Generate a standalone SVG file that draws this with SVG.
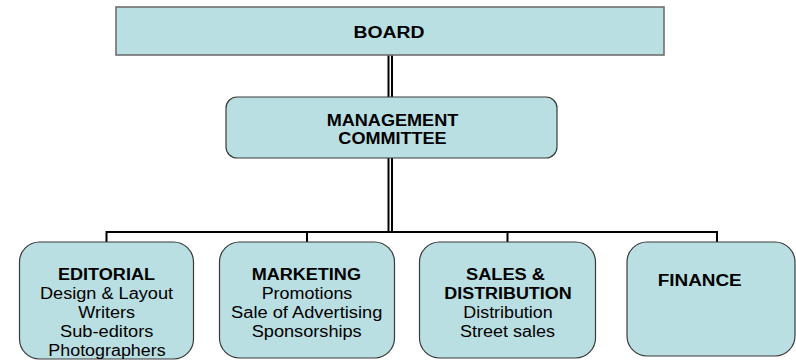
<svg xmlns="http://www.w3.org/2000/svg" width="796" height="360" viewBox="0 0 796 360">
  <style>
    .box { fill: #b9dfe2; stroke: #3a3a3a; stroke-width: 1.2; }
    .board { fill: #b9dfe2; stroke: #6e6e6e; stroke-width: 1.6; }
    .line { fill: none; stroke: #000; stroke-width: 2; }
    text { font-family: "Liberation Sans", Arial, sans-serif; font-size: 16px; fill: #000; text-anchor: middle; }
    .h { font-weight: bold; }
  </style>
  <rect width="796" height="360" fill="#fff"/>

  <g id="connectors">
    <!-- double trunk from board down to the bus -->
    <line class="line" x1="388.5" y1="55" x2="388.5" y2="232"/>
    <line class="line" x1="392" y1="55" x2="392" y2="232"/>
    <!-- bus -->
    <line class="line" x1="106.5" y1="232" x2="717" y2="232" stroke-width="1.8"/>
    <line class="line" x1="307" y1="232" x2="507.5" y2="232" stroke-width="2.6"/>
    <!-- drops -->
    <line class="line" x1="106.5" y1="231" x2="106.5" y2="242"/>
    <line class="line" x1="307" y1="231" x2="307" y2="242"/>
    <line class="line" x1="507.5" y1="231" x2="507.5" y2="242"/>
    <line class="line" x1="717" y1="231" x2="717" y2="242"/>
  </g>

  <g id="board">
    <rect class="board" x="116" y="7" width="548" height="48"/>
    <text class="h" x="389" y="38" font-size="17" textLength="71" lengthAdjust="spacingAndGlyphs">BOARD</text>
  </g>

  <g id="management">
    <rect class="box" x="226" y="97" width="331" height="61" rx="11"/>
    <text class="h" x="392.5" y="125.5" textLength="131.6" lengthAdjust="spacingAndGlyphs">MANAGEMENT</text>
    <text class="h" x="392.5" y="144" textLength="108.3" lengthAdjust="spacingAndGlyphs">COMMITTEE</text>
  </g>

  <g id="editorial">
    <rect class="box" x="19.5" y="242" width="174" height="117" rx="20"/>
    <text class="h" x="106.5" y="280" textLength="97" lengthAdjust="spacingAndGlyphs">EDITORIAL</text>
    <text x="106.5" y="299" textLength="133" lengthAdjust="spacingAndGlyphs">Design &amp; Layout</text>
    <text x="106.7" y="318" textLength="56.7" lengthAdjust="spacingAndGlyphs">Writers</text>
    <text x="106.7" y="337" textLength="93.3" lengthAdjust="spacingAndGlyphs">Sub-editors</text>
    <text x="107" y="356" textLength="117.3" lengthAdjust="spacingAndGlyphs">Photographers</text>
  </g>

  <g id="marketing">
    <rect class="box" x="219.5" y="242" width="175" height="116" rx="20"/>
    <text class="h" x="306.3" y="280" textLength="109.3" lengthAdjust="spacingAndGlyphs">MARKETING</text>
    <text x="307" y="299" textLength="90.7" lengthAdjust="spacingAndGlyphs">Promotions</text>
    <text x="306.7" y="318" textLength="151.3" lengthAdjust="spacingAndGlyphs">Sale of Advertising</text>
    <text x="306.7" y="337" textLength="110" lengthAdjust="spacingAndGlyphs">Sponsorships</text>
  </g>

  <g id="sales">
    <rect class="box" x="419.5" y="242" width="176" height="116" rx="20"/>
    <text class="h" x="505.5" y="279.5" textLength="79" lengthAdjust="spacingAndGlyphs">SALES &amp;</text>
    <text class="h" x="508" y="299" textLength="127.3" lengthAdjust="spacingAndGlyphs">DISTRIBUTION</text>
    <text x="508" y="318" textLength="89.3" lengthAdjust="spacingAndGlyphs">Distribution</text>
    <text x="507.5" y="337" textLength="95" lengthAdjust="spacingAndGlyphs">Street sales</text>
  </g>

  <g id="finance">
    <rect class="box" x="627" y="242" width="168" height="114" rx="20"/>
    <text class="h" x="699.7" y="286" textLength="84" lengthAdjust="spacingAndGlyphs">FINANCE</text>
  </g>
</svg>
